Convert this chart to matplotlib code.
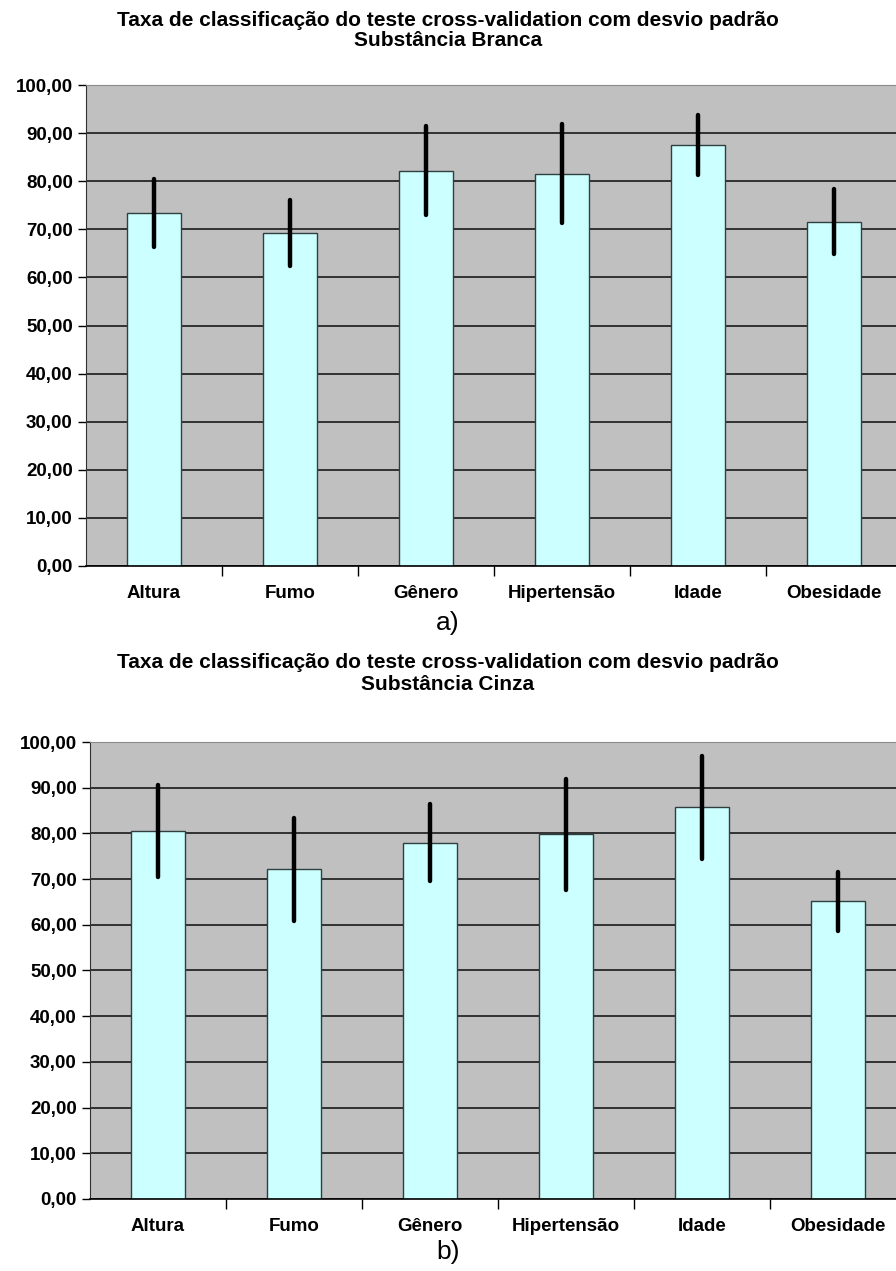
import matplotlib.pyplot as plt
from matplotlib.ticker import FuncFormatter, MultipleLocator, FixedLocator

categories = ['Altura', 'Fumo', 'Gênero', 'Hipertensão', 'Idade', 'Obesidade']

# substancia branca
branca_media = [73.4, 69.2, 82.2, 81.6, 87.5, 71.6]
branca_desvio = [7.1, 6.9, 9.2, 10.2, 6.2, 6.8]

# substancia cinza
cinza_media = [80.5, 72.1, 78.0, 79.8, 85.7, 65.1]
cinza_desvio = [10.1, 11.2, 8.5, 12.2, 11.3, 6.4]

titulo = 'Taxa de classificação do teste cross-validation com desvio padrão'

plt.rcParams['font.family'] = ['Liberation Sans', 'DejaVu Sans']

fig = plt.figure(figsize=(8.96, 12.71), dpi=100)


def virgula(v, pos):
    return ('%.2f' % v).replace('.', ',')


def desenha(ax, media, desvio):
    x = range(len(categories))
    ax.set_facecolor('#c0c0c0')
    ax.bar(x, media, width=0.4, color='#ccffff', edgecolor='#2f3f3f',
           linewidth=1.0, zorder=2)
    eb = ax.errorbar(x, media, yerr=desvio, fmt='none', ecolor='black',
                     elinewidth=3.2, capsize=0, zorder=3)
    eb[2][0].set_capstyle('round')
    ax.set_ylim(0, 100)
    ax.set_xlim(-0.5, len(categories) - 0.5)
    ax.yaxis.set_major_locator(MultipleLocator(10))
    ax.yaxis.set_major_formatter(FuncFormatter(virgula))
    ax.yaxis.grid(True, color='#1a1a1a', linewidth=1.2, zorder=1)
    ax.set_axisbelow(True)
    # ticks between the categories, labels under each bar
    ax.xaxis.set_major_locator(FixedLocator([i + 0.5 for i in range(len(categories) - 1)]))
    ax.set_xticklabels([])
    ax.set_xticks(list(x), minor=True)
    ax.set_xticklabels(categories, minor=True, fontweight='bold', fontsize=13.5)
    ax.tick_params(axis='x', which='minor', length=0, pad=14)
    ax.tick_params(axis='x', which='major', length=7, width=1, direction='out')
    ax.tick_params(axis='y', length=6, width=1, direction='out', labelsize=13.5)
    for lab in ax.get_yticklabels():
        lab.set_fontweight('bold')
    ax.spines['top'].set_color('#8a8a8a')
    ax.spines['right'].set_visible(False)
    ax.spines['left'].set_color('#303030')
    ax.spines['bottom'].set_color('black')
    ax.spines['bottom'].set_linewidth(1.2)


ax1 = fig.add_axes([0.096, 0.5547, 0.9107, 0.3784])
desenha(ax1, branca_media, branca_desvio)

ax2 = fig.add_axes([0.1004, 0.0567, 0.9107, 0.3595])
desenha(ax2, cinza_media, cinza_desvio)

fig.text(0.5, 1 - 20 / 1271, titulo, ha='center', va='center', fontsize=15, fontweight='bold')
fig.text(0.5, 1 - 41 / 1271, 'Substância Branca', ha='center', va='center', fontsize=15, fontweight='bold')
fig.text(0.5, 1 - 623 / 1271, 'a)', ha='center', va='center', fontsize=19)

fig.text(0.5, 1 - 663 / 1271, titulo, ha='center', va='center', fontsize=15, fontweight='bold')
fig.text(0.5, 1 - 684 / 1271, 'Substância Cinza', ha='center', va='center', fontsize=15, fontweight='bold')
fig.text(0.5, 1 - 1252 / 1271, 'b)', ha='center', va='center', fontsize=19)

fig.savefig('out.png', dpi=100, facecolor='white')
